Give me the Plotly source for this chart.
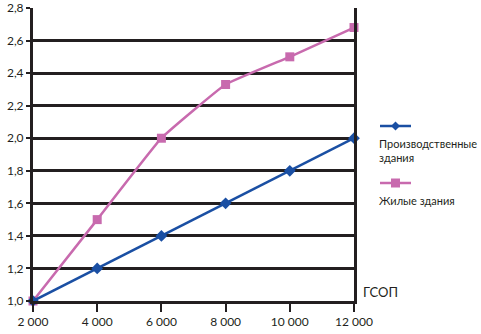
import plotly.graph_objects as go

gsop = [2000, 4000, 6000, 8000, 10000, 12000]
prod = [1.0, 1.2, 1.4, 1.6, 1.8, 2.0]
zhil = [1.0, 1.5, 2.0, 2.33, 2.5, 2.68]
xtick_vals = [2000, 4000, 6000, 8000, 10000, 12000]
xtick_text = ["2 000", "4 000", "6 000", "8 000", "10 000", "12 000"]
ytick_vals = [1.0, 1.2, 1.4, 1.6, 1.8, 2.0, 2.2, 2.4, 2.6, 2.8]
ytick_text = ["1,0", "1,2", "1,4", "1,6", "1,8", "2,0", "2,2", "2,4", "2,6", "2,8"]
names = ["Производственные<br>здания", "Жилые здания"]

BLUE = "#1a4fa3"
PINK = "#c86aae"
DARK = "#231f20"
FONT = "Lato"

fig = go.Figure()
fig.add_trace(go.Scatter(x=gsop, y=zhil, mode="lines+markers",
                         line=dict(color=PINK, width=2.5, shape="spline", smoothing=0.3),
                         marker=dict(symbol="square", size=9, color=PINK),
                         showlegend=False, cliponaxis=False))
fig.add_trace(go.Scatter(x=gsop, y=prod, mode="lines+markers",
                         line=dict(color=BLUE, width=2.5),
                         marker=dict(symbol="diamond", size=9, color=BLUE),
                         showlegend=False, cliponaxis=False))

W, H = 481, 334
L, R, T, B = 33, 127, 8, 33

def px(x):
    return (x - L) / (W - L - R)

def py(y):
    return 1 - (y - T) / (H - T - B)

# manual legend (symbol above text)
for yy, col, sym, txt, ty in [(126, BLUE, "diamond", names[0], 150), (183, PINK, "square", names[1], 200)]:
    fig.add_shape(type="line", xref="paper", yref="paper", x0=px(380), x1=px(411), y0=py(yy), y1=py(yy),
                  line=dict(color=col, width=2.5))
    cx, s = 395.5, 4.5
    if sym == "square":
        path = f"M{px(cx-s)},{py(yy-s)} L{px(cx+s)},{py(yy-s)} L{px(cx+s)},{py(yy+s)} L{px(cx-s)},{py(yy+s)} Z"
    else:
        path = f"M{px(cx)},{py(yy-s)} L{px(cx+s)},{py(yy)} L{px(cx)},{py(yy+s)} L{px(cx-s)},{py(yy)} Z"
    fig.add_shape(type="path", xref="paper", yref="paper", path=path,
                  fillcolor=col, line=dict(color=col, width=0))
    fig.add_annotation(xref="paper", yref="paper", x=px(377), y=py(ty), text=txt, showarrow=False,
                       xanchor="left", yanchor="middle", align="left",
                       font=dict(family=FONT, size=11, color=DARK))

fig.add_annotation(xref="paper", yref="paper", x=px(361), y=py(292), text="ГСОП", showarrow=False,
                   xanchor="left", yanchor="middle", font=dict(family=FONT, size=13, color=DARK))

fig.update_layout(
    width=W, height=H, margin=dict(l=L, r=R, t=T, b=B, autoexpand=False),
    plot_bgcolor="white", paper_bgcolor="white",
    font=dict(family=FONT, size=12, color=DARK),
    xaxis=dict(range=[2000, 12000], tickvals=xtick_vals, ticktext=xtick_text, automargin=False,
               showgrid=False, zeroline=False, showline=True, linecolor=DARK, linewidth=3,
               ticks="outside", ticklen=8, tickwidth=2, tickcolor=DARK,
               tickfont=dict(family=FONT, size=12, color=DARK)),
    yaxis=dict(range=[1.0, 2.8], tickvals=ytick_vals, ticktext=ytick_text, automargin=False,
               showgrid=True, gridcolor=DARK, gridwidth=2.5, zeroline=False,
               showline=True, mirror=True, linecolor=DARK, linewidth=3,
               ticks="outside", ticklen=4, tickwidth=2, tickcolor=DARK,
               tickfont=dict(family=FONT, size=12, color=DARK)),
)

fig.write_html("out.html", config={"displayModeBar": False},
               post_script="document.body.style.margin='0';document.body.style.overflow='hidden';")
